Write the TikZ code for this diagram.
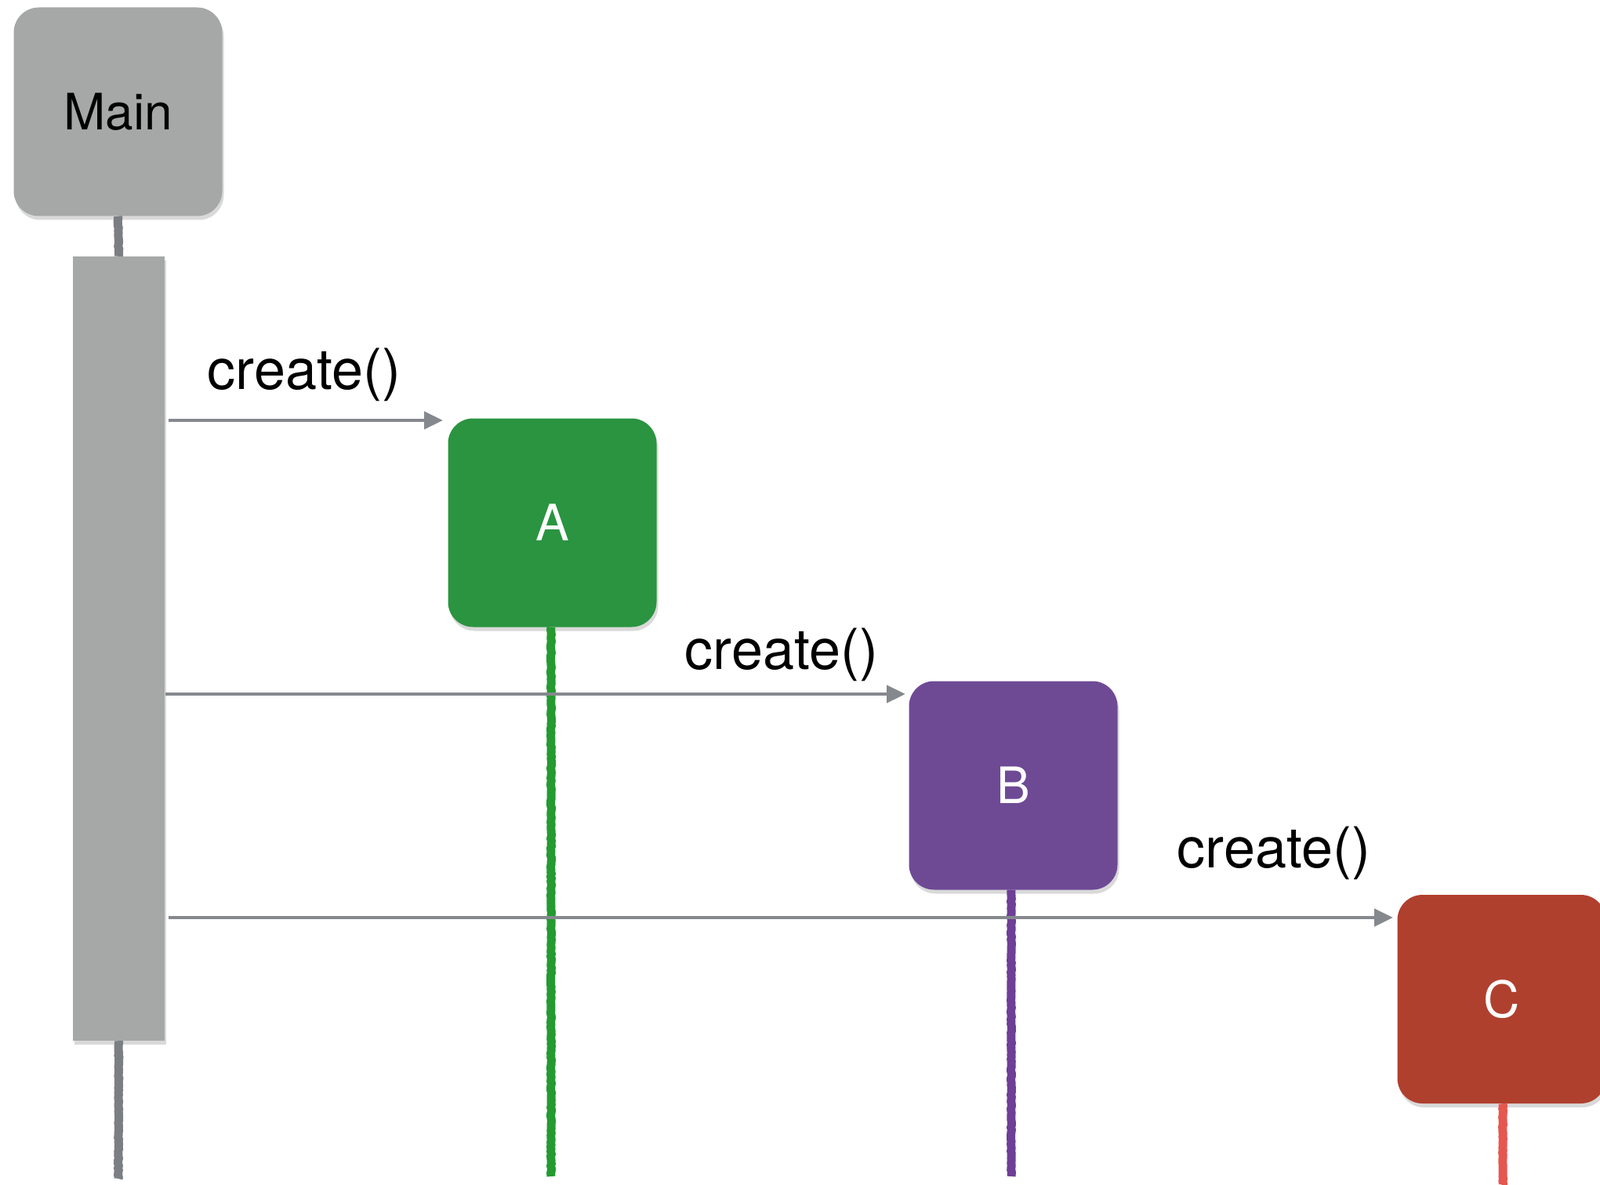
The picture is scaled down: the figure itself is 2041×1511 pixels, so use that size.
\documentclass[tikz,border=0pt]{standalone}
\usepackage{fontspec}
\setmainfont{TeX Gyre Heros}
\usetikzlibrary{shadows,decorations.pathmorphing,arrows.meta}
\definecolor{maingray}{HTML}{A5A8A7}
\definecolor{agreen}{HTML}{2A9440}
\definecolor{bpurple}{HTML}{6E4A95}
\definecolor{cred}{HTML}{B0402E}
\definecolor{lgray}{HTML}{7B7E82}
\definecolor{lgreen}{HTML}{249A30}
\definecolor{lpurple}{HTML}{6F3E96}
\definecolor{lred}{HTML}{E5574F}
\definecolor{arrgray}{HTML}{85898E}
\tikzset{
  objbox/.style={rounded corners=32pt, minimum width=266pt, minimum height=266pt,
    inner sep=0pt, draw=none,
    drop shadow={opacity=0.3, shadow xshift=2pt, shadow yshift=-5pt},
    font=\fontsize{64}{70}\selectfont},
  lifeline/.style={line width=11pt,
    decorate, decoration={random steps, segment length=3pt, amplitude=0.5pt}},
  msg/.style={draw=arrgray, line width=4.5pt, -{Triangle[length=24pt,width=22pt]}},
  msglabel/.style={anchor=base, font=\fontsize{72}{80}\selectfont, inner sep=0pt}
}
\begin{document}
\begin{tikzpicture}[x=1pt,y=-1pt]
\useasboundingbox (0,0) rectangle (2041,1511);
% objects
\node[objbox, fill=maingray, text=black] (main) at (150.5,142.5) {Main};
\node[fill=maingray, minimum width=117pt, minimum height=1000pt, inner sep=0pt,
      drop shadow={opacity=0.3, shadow xshift=2pt, shadow yshift=-5pt}] (bar) at (151.5,827) {};
\node[objbox, fill=agreen, text=white] (A) at (704.5,666.5) {A};
\node[objbox, fill=bpurple, text=white] (B) at (1292.5,1001.5) {B};
\node[objbox, fill=cred, text=white] (C) at (1915.5,1274) {C};
% lifeline ends
\coordinate (mainend) at (151,1503);
\coordinate (aend) at (703,1500);
\coordinate (bend) at (1290,1500);
\coordinate (cend) at (1917,1511);
% lifelines
\draw[lifeline, draw=lgray] (main.south) -- (bar.north);
\draw[lifeline, draw=lgray] (bar.south) -- (mainend);
\draw[lifeline, draw=lgreen] (A.south -| aend) -- (aend);
\draw[lifeline, draw=lpurple] (B.south -| bend) -- (bend);
\draw[lifeline, draw=lred] (C.south -| cend) -- (cend);
% messages
\coordinate (s1) at (215,536);
\coordinate (t1) at (565,536);
\coordinate (s2) at (211,885);
\coordinate (t2) at (1155,885);
\coordinate (s3) at (215,1170);
\coordinate (t3) at (1777,1170);
\draw[msg] (s1) -- (t1);
\draw[msg] (s2) -- (t2);
\draw[msg] (s3) -- (t3);
% labels
\node[msglabel] (l1) at (388,496) {create()};
\node[msglabel] (l2) at (997,853) {create()};
\node[msglabel] (l3) at (1625,1106) {create()};
\end{tikzpicture}
\end{document}
